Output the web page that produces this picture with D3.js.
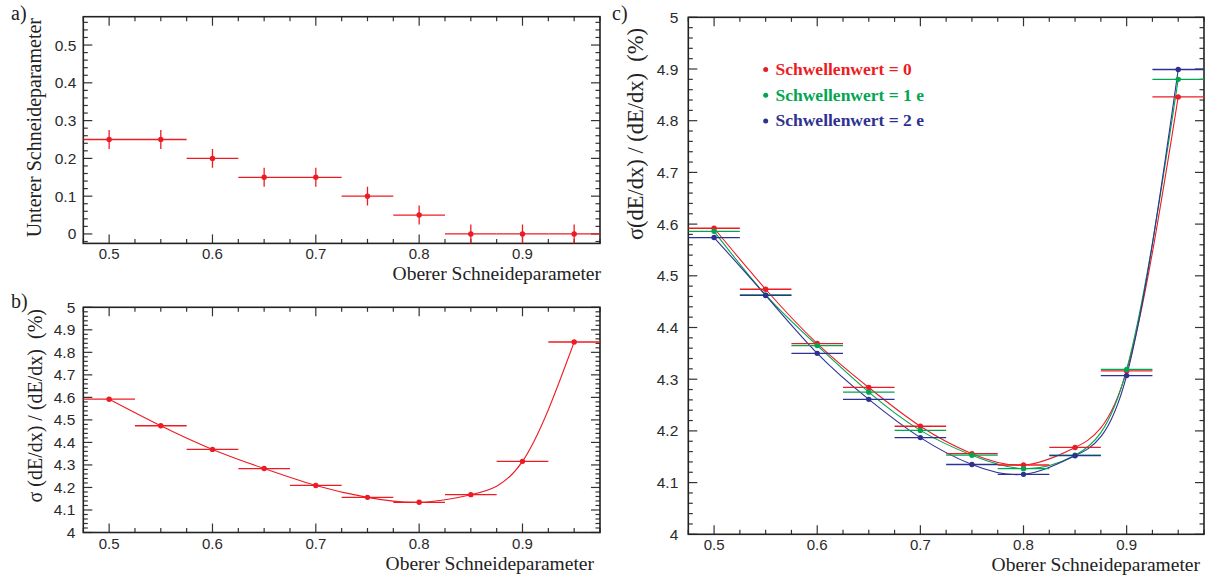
<!DOCTYPE html>
<html>
<head>
<meta charset="utf-8">
<script src="https://cdn.jsdelivr.net/npm/d3@7.8.5/dist/d3.min.js"></script>
<style>
  html, body { margin: 0; padding: 0; background: #fff; }
  svg { display: block; }
</style>
</head>
<body>
<div id="chart"></div>
<script>
// upper cut parameter (bin centres) and bin half width
const upperCut = [0.5, 0.55, 0.6, 0.65, 0.7, 0.75, 0.8, 0.85, 0.9, 0.95];
const binHalf = 0.025;

// a) lower cut parameter per upper cut, with its error
const lowerCut = [0.25, 0.25, 0.2, 0.15, 0.15, 0.1, 0.05, 0, 0, 0];
const lowerCutErr = [0.025, 0.025, 0.025, 0.025, 0.025, 0.025, 0.025, 0.025, 0.025, 0.025];

// b) / c) relative dE/dx resolution (%) for three thresholds
const resThr0 = [4.592, 4.474, 4.369, 4.284, 4.209, 4.156, 4.134, 4.168, 4.316, 4.846];
const resThr1 = [4.586, 4.463, 4.365, 4.275, 4.201, 4.153, 4.127, 4.153, 4.319, 4.880];
const resThr2 = [4.574, 4.462, 4.350, 4.261, 4.187, 4.135, 4.116, 4.152, 4.307, 4.899];

const seriesNames = ['Schwellenwert = 0', 'Schwellenwert = 1 e', 'Schwellenwert = 2 e'];
const seriesColors = ['#ed1c24', '#00a651', '#2e3192'];

const xTicks = [0.5, 0.6, 0.7, 0.8, 0.9];
const yTicksA = [0, 0.1, 0.2, 0.3, 0.4, 0.5];
const yTicksRes = [4, 4.1, 4.2, 4.3, 4.4, 4.5, 4.6, 4.7, 4.8, 4.9, 5];

const SERIF = '"Liberation Serif", "Times New Roman", serif';
const SANS = '"Liberation Sans", Arial, sans-serif';

const svg = d3.select('#chart').append('svg')
    .attr('width', 1210)
    .attr('height', 577);

function minorTicks(domain, step, majors) {
    const lo = Math.ceil(domain[0] / step - 1e-6);
    const hi = Math.floor(domain[1] / step + 1e-6);
    return d3.range(lo, hi + 1).map(i => +(i * step).toFixed(4))
        .filter(v => !majors.some(m => Math.abs(m - v) < 1e-6));
}

function makePanel(o) {
    const x = d3.scaleLinear().domain([0.475, 0.975]).range([o.left, o.right]);
    const y = d3.scaleLinear().domain(o.yDomain).range([o.bottom, o.top]);
    const g = svg.append('g');

    const clipId = 'clip-' + o.tag;
    svg.append('clipPath').attr('id', clipId)
        .append('rect')
        .attr('x', o.left).attr('y', o.top)
        .attr('width', o.right - o.left).attr('height', o.bottom - o.top);

    const tickCol = '#333';
    const majorLen = 9, minorLen = 4.5;
    const xMinor = minorTicks(x.domain(), 0.025, xTicks);
    const yMinor = minorTicks(y.domain(), 0.02, o.yTicks);

    // x ticks on bottom and top, y ticks left and right, all pointing inwards
    const ticks = g.append('g').attr('stroke', tickCol).attr('stroke-width', 1.2);
    [[xTicks, majorLen], [xMinor, minorLen]].forEach(([vals, len]) => {
        ticks.selectAll(null).data(vals).enter().append('line')
            .attr('x1', d => x(d)).attr('x2', d => x(d))
            .attr('y1', o.bottom).attr('y2', o.bottom - len);
        ticks.selectAll(null).data(vals).enter().append('line')
            .attr('x1', d => x(d)).attr('x2', d => x(d))
            .attr('y1', o.top).attr('y2', o.top + len);
    });
    [[o.yTicks, majorLen], [yMinor, minorLen]].forEach(([vals, len]) => {
        ticks.selectAll(null).data(vals).enter().append('line')
            .attr('y1', d => y(d)).attr('y2', d => y(d))
            .attr('x1', o.left).attr('x2', o.left + len);
        ticks.selectAll(null).data(vals).enter().append('line')
            .attr('y1', d => y(d)).attr('y2', d => y(d))
            .attr('x1', o.right).attr('x2', o.right - len);
    });

    // frame
    g.append('rect')
        .attr('x', o.left).attr('y', o.top)
        .attr('width', o.right - o.left).attr('height', o.bottom - o.top)
        .attr('fill', 'none').attr('stroke', '#222').attr('stroke-width', 1.6);

    // tick labels
    g.append('g').selectAll('text').data(xTicks).enter().append('text')
        .attr('x', d => x(d)).attr('y', o.bottom + 16)
        .attr('text-anchor', 'middle')
        .style('font-family', SANS).style('font-size', '15px').style('fill', '#2a2a2a')
        .text(d => d.toFixed(1));
    g.append('g').selectAll('text').data(o.yTicks).enter().append('text')
        .attr('x', o.left - o.yLabelGap).attr('y', d => y(d) + 5.5)
        .attr('text-anchor', 'end')
        .style('font-family', SANS).style('font-size', '15.5px').style('fill', '#2a2a2a')
        .text(d => Number.isInteger(d) ? String(d) : d.toFixed(1));

    // axis titles
    g.append('text')
        .attr('x', o.xTitleRight).attr('y', o.bottom + 37)
        .attr('text-anchor', 'end')
        .style('font-family', SERIF).style('font-size', '19.5px').style('fill', '#222')
        .text('Oberer Schneideparameter');
    g.append('text')
        .attr('transform', `translate(${o.yTitleX},${o.yTitleTop}) rotate(-90)`)
        .attr('text-anchor', 'end')
        .style('white-space', 'pre')
        .style('font-family', SERIF).style('font-size', o.yTitleSize).style('fill', '#222')
        .text(o.yTitle);

    // panel letter
    g.append('text')
        .attr('x', o.letterX).attr('y', o.letterY)
        .style('font-family', SERIF).style('font-size', '20px').style('fill', '#222')
        .text(o.letter);

    const plot = g.append('g').attr('clip-path', `url(#${clipId})`);
    return { x, y, plot };
}

function drawSeries(p, vals, color, errs) {
    const pts = upperCut.map((u, i) => ({ u, v: vals[i], e: errs ? errs[i] : 0 }));
    const sg = p.plot.append('g');
    // horizontal bin bars
    sg.selectAll(null).data(pts).enter().append('line')
        .attr('x1', d => p.x(d.u - binHalf)).attr('x2', d => p.x(d.u + binHalf))
        .attr('y1', d => p.y(d.v)).attr('y2', d => p.y(d.v))
        .attr('stroke', color).attr('stroke-width', 1.3);
    if (errs) {
        sg.selectAll(null).data(pts).enter().append('line')
            .attr('x1', d => p.x(d.u)).attr('x2', d => p.x(d.u))
            .attr('y1', d => p.y(d.v - d.e)).attr('y2', d => p.y(d.v + d.e))
            .attr('stroke', color).attr('stroke-width', 1.3);
    }
    sg.selectAll(null).data(pts).enter().append('circle')
        .attr('cx', d => p.x(d.u)).attr('cy', d => p.y(d.v))
        .attr('r', 2.7).attr('fill', color);
}

function drawCurve(p, vals, color) {
    const line = d3.line()
        .x((d, i) => p.x(upperCut[i]))
        .y(d => p.y(d))
        .curve(d3.curveNatural);
    p.plot.append('path')
        .datum(vals)
        .attr('d', line)
        .attr('fill', 'none').attr('stroke', color).attr('stroke-width', 1.1);
}

// ---- panel a ----
const pa = makePanel({
    tag: 'a', left: 83.3, right: 600, top: 16.7, bottom: 243.4,
    yDomain: [-0.025, 0.575], yTicks: yTicksA, yLabelGap: 7,
    yTitle: 'Unterer Schneideparameter', yTitleX: 40.5, yTitleTop: 18, yTitleSize: '20px',
    xTitleRight: 601, letter: 'a)', letterX: 11, letterY: 20
});
drawSeries(pa, lowerCut, seriesColors[0], lowerCutErr);

// ---- panel b ----
const pb = makePanel({
    tag: 'b', left: 83.3, right: 600, top: 307.3, bottom: 532.5,
    yDomain: [4, 5], yTicks: yTicksRes, yLabelGap: 8,
    yTitle: 'σ (dE/dx) / (dE/dx)  (%)', yTitleX: 42, yTitleTop: 309, yTitleSize: '20px',
    xTitleRight: 594, letter: 'b)', letterX: 11, letterY: 308
});
drawCurve(pb, resThr0, seriesColors[0]);
drawSeries(pb, resThr0, seriesColors[0]);

// ---- panel c ----
const pc = makePanel({
    tag: 'c', left: 688.3, right: 1204, top: 17.3, bottom: 534.3,
    yDomain: [4, 5], yTicks: yTicksRes, yLabelGap: 10,
    yTitle: 'σ(dE/dx) / (dE/dx)  (%)', yTitleX: 642.5, yTitleTop: 28, yTitleSize: '22.5px',
    xTitleRight: 1200, letter: 'c)', letterX: 612, letterY: 20
});
[resThr0, resThr1, resThr2].forEach((vals, i) => drawCurve(pc, vals, seriesColors[i]));
[resThr0, resThr1, resThr2].forEach((vals, i) => drawSeries(pc, vals, seriesColors[i]));

// legend
const legend = svg.append('g');
seriesNames.forEach((name, i) => {
    const yy = 75 + i * 25.7;
    legend.append('circle')
        .attr('cx', 765.7).attr('cy', yy - 5.5).attr('r', 2.5)
        .attr('fill', seriesColors[i]);
    legend.append('text')
        .attr('x', 775.5).attr('y', yy)
        .style('font-family', SERIF).style('font-size', '17.5px').style('font-weight', 'bold')
        .style('fill', seriesColors[i])
        .text(name);
});
</script>
</body>
</html>
